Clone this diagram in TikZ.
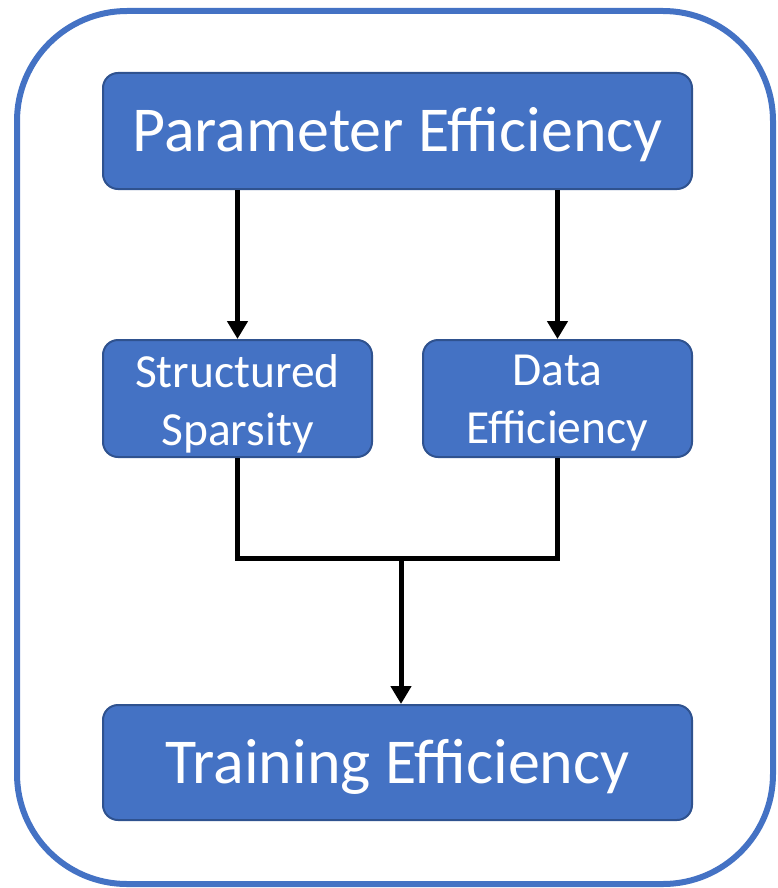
\documentclass[tikz,border=0pt]{standalone}
\usepackage{fontspec}
\setmainfont{Carlito}
\usetikzlibrary{arrows.meta}
\definecolor{boxfill}{HTML}{4472C4}
\definecolor{boxedge}{HTML}{2F528F}
\tikzset{
  bluebox/.style={draw=boxedge, line width=2pt, fill=boxfill, rounded corners=15pt, inner sep=0pt},
  boxtext/.style={text=white, align=center, inner sep=0pt},
  bigtext/.style={boxtext, font=\fontsize{64}{72}\selectfont, yshift=-4pt},
  midtext/.style={boxtext, font=\fontsize{47.5}{58}\selectfont, yshift=-5pt},
  conn/.style={line width=5pt, black},
  arr/.style={conn, -{Triangle[width=20pt,length=18pt]}}
}
\begin{document}
\begin{tikzpicture}[x=1pt,y=-1pt]
\useasboundingbox (0,0) rectangle (777,888);
\draw[line width=6pt, boxfill, rounded corners=110pt] (17,11) rectangle (773,884);
\node[bluebox, minimum width=589pt, minimum height=116pt, label={[bigtext]center:Parameter Efficiency}] (top) at (397.5,131) {};
\node[bluebox, minimum width=269pt, minimum height=117pt, label={[midtext]center:Structured\\Sparsity}] (left) at (237.5,398.5) {};
\node[bluebox, minimum width=269pt, minimum height=117pt, label={[midtext]center:Data\\Efficiency}] (right) at (557.5,398.5) {};
\node[bluebox, minimum width=589pt, minimum height=115pt, label={[bigtext]center:Training Efficiency}] (bottom) at (397.5,762.5) {};
\draw[arr] (left.north |- top.south) -- (left.north);
\draw[arr] (right.north |- top.south) -- (right.north);
\coordinate (j) at (401,558);
\draw[conn] (left.south) |- (j) -| (right.south);
\draw[arr] (j) -- (bottom.north -| j);
\end{tikzpicture}
\end{document}
